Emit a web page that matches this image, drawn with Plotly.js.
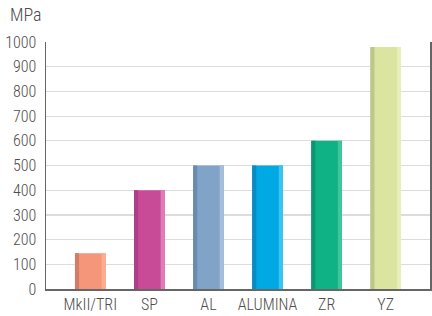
<!DOCTYPE html>
<html><head><meta charset="utf-8">
<script src="https://cdn.plot.ly/plotly-3.0.1.min.js"></script>
<style>html,body{margin:0;padding:0;background:#fff;}</style>
</head><body>
<div id="chart" style="width:432px;height:316px;"></div>
<script>
const categories = ["MkII/TRI", "SP", "AL", "ALUMINA", "ZR", "YZ"];
const strength = [145, 400, 500, 500, 600, 980];
const mainColors = ["#F5967A", "#C84B97", "#82A3C8", "#00A8E4", "#0FB284", "#DCE5A0"];
const darkColors = ["#D07E68", "#AE3F84", "#6A8BB1", "#0A8CC2", "#0B9870", "#BCC888"];
const lightColors = ["#FAAC90", "#DE7DBA", "#A5BEDB", "#3CC4F1", "#3FC59C", "#E7EEBA"];
const yTicks = [0, 100, 200, 300, 400, 500, 600, 700, 800, 900, 1000];

const font = "'Liberation Sans Narrow', 'Roboto Condensed', Roboto, sans-serif";
const W = 0.52, S = 0.07;
const traces = [
  {type: "bar", x: categories, y: strength, width: W, marker: {color: mainColors}, hoverinfo: "skip"},
  {type: "bar", x: categories, y: strength, width: S, offset: -W/2, marker: {color: darkColors}, hoverinfo: "skip"},
  {type: "bar", x: categories, y: strength, width: S, offset: W/2 - S, marker: {color: lightColors}, hoverinfo: "skip"}
];
const layout = {
  width: 432, height: 316,
  margin: {l: 46, r: 2, t: 42, b: 27},
  barmode: "overlay",
  showlegend: false,
  paper_bgcolor: "#fff", plot_bgcolor: "#fff",
  font: {family: font, size: 16, color: "#4d4d4d", weight: 300},
  xaxis: {
    range: [-0.75, 5.75], showgrid: false, showline: true, linecolor: "#666", linewidth: 1.5,
    ticks: "", ticklabelstandoff: 0, tickfont: {size: 16, family: font, color: "#4d4d4d", weight: 300}, fixedrange: true
  },
  yaxis: {
    range: [0, 1000], tickvals: yTicks, ticktext: yTicks.map(String),
    showgrid: true, gridcolor: "#dcdcdc", gridwidth: 1.2,
    showline: true, linecolor: "#666", linewidth: 1.5, mirror: true,
    zeroline: false, ticks: "", ticklabelstandoff: 5,
    tickfont: {size: 16, family: font, color: "#4d4d4d", weight: 300}, fixedrange: true
  },
  annotations: [{
    text: "MPa", xref: "paper", yref: "paper", x: -0.098, y: 1.112,
    xanchor: "left", yanchor: "middle", showarrow: false,
    font: {size: 18, family: font, color: "#4d4d4d", weight: 300}
  }]
};
Plotly.newPlot("chart", traces, layout, {staticPlot: true, displayModeBar: false});
</script>
</body></html>
